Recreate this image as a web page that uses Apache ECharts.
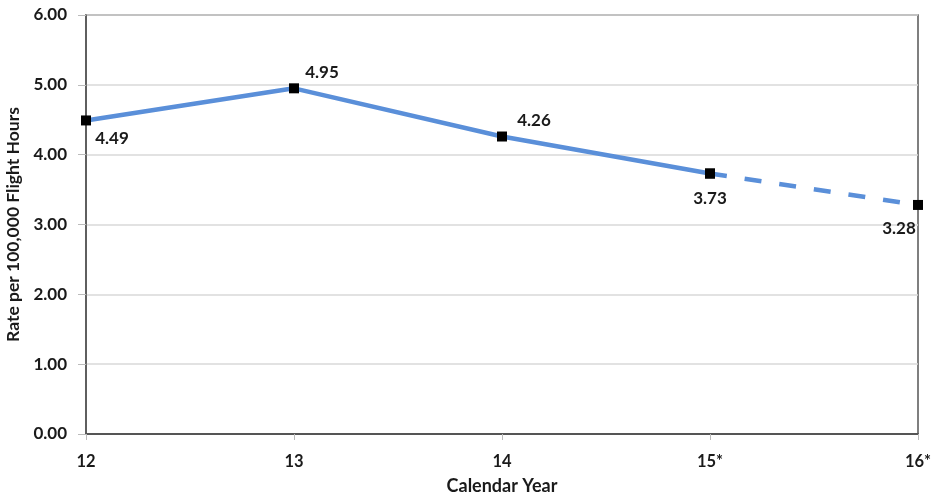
<!DOCTYPE html>
<html>
<head>
<meta charset="utf-8">
<script src="https://cdn.jsdelivr.net/npm/echarts@6/dist/echarts.min.js"></script>
<style>html,body{margin:0;padding:0;background:#fff;}#c{width:933px;height:495px;}</style>
</head>
<body>
<div id="c"></div>
<script>
const categories = ['12', '13', '14', '15*', '16*'];
const actualValues = [4.49, 4.95, 4.26, 3.73, null];
const projectedValues = [null, null, null, 3.73, 3.28];
const yTicks = [0, 1, 2, 3, 4, 5, 6];

const labelOffsets = [[26, 18], [28, -16], [32, -16], [0, 25], [-19, 24]];
const font = 'Lato, "Open Sans", sans-serif';

function dataWithLabels(vals, showIdx) {
  return vals.map((v, i) => {
    if (v === null) return null;
    return {
      value: v,
      label: {
        show: showIdx.includes(i),
        position: 'inside',
        offset: labelOffsets[i],
        formatter: (p) => p.value.toFixed(2),
        fontFamily: font, fontWeight: 'bold', fontSize: 17, color: '#1a1a1a'
      }
    };
  });
}

const chart = echarts.init(document.getElementById('c'));
chart.setOption({
  animation: false,
  backgroundColor: '#fff',
  grid: { left: 86, right: 15, top: 15, bottom: 61, outerBoundsMode: 'none', containLabel: false,
    show: true, borderColor: '#555', borderWidth: 1.5 },
  xAxis: {
    type: 'category', data: categories, boundaryGap: false,
    name: 'Calendar Year', nameLocation: 'middle', nameGap: 43,
    nameTextStyle: { fontFamily: font, fontWeight: 'bold', fontSize: 18, color: '#1a1a1a' },
    axisLine: { lineStyle: { color: '#555', width: 2 } },
    axisTick: { show: true, length: 6, lineStyle: { color: '#bbb' } },
    axisLabel: { fontFamily: font, fontWeight: 'bold', fontSize: 16.5, color: '#1a1a1a', margin: 19 },
    splitLine: { show: false }
  },
  yAxis: {
    type: 'value', min: yTicks[0], max: yTicks[yTicks.length - 1], interval: 1,
    name: 'Rate per 100,000 Flight Hours', nameLocation: 'middle', nameGap: 59,
    nameTextStyle: { fontFamily: font, fontWeight: 'bold', fontSize: 17.5, color: '#1a1a1a' },
    axisLine: { show: true, lineStyle: { color: '#555', width: 1.5 } },
    axisTick: { show: true, length: 8, lineStyle: { color: '#bbb' } },
    axisLabel: { fontFamily: font, fontWeight: 'bold', fontSize: 17, color: '#1a1a1a', margin: 19,
      formatter: (v) => v.toFixed(2) },
    splitLine: { lineStyle: { color: '#d9d9d9', width: 1.5 } }
  },
  series: [
    {
      type: 'line', data: dataWithLabels(projectedValues, [4]),
      lineStyle: { color: '#5A8FD9', width: 4.5, type: [17, 18] },
      symbol: 'rect', symbolSize: 10, itemStyle: { color: '#000' },
      z: 2
    },
    {
      type: 'line', data: dataWithLabels(actualValues, [0, 1, 2, 3]),
      lineStyle: { color: '#5A8FD9', width: 4.5 },
      symbol: 'rect', symbolSize: 10, itemStyle: { color: '#000' },
      z: 3
    }
  ]
});
</script>
</body>
</html>
